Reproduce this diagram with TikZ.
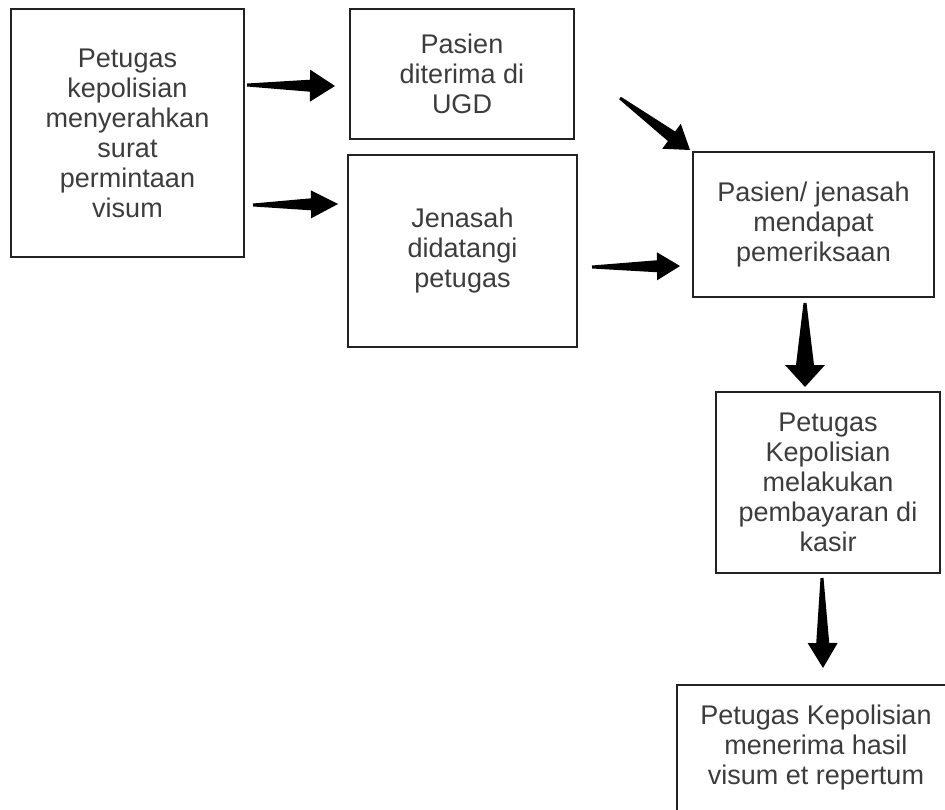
\documentclass[tikz,border=0pt]{standalone}
\usepackage{fontspec}
\setmainfont{Liberation Sans}
\usetikzlibrary{calc}
\definecolor{boxline}{HTML}{222222}
\definecolor{boxtext}{HTML}{3C3C3C}

% block arrow: tail #1, tip #2, head length #3, head half width #4, shaft half width #5
\newcommand{\fatarrow}[5]{%
  \coordinate (hb) at ($(#2)!#3pt!(#1)$);
  \fill[black] ($(#1)!1.5pt!90:(#2)$) -- ($(hb)!#5pt!-90:(#1)$) -- ($(hb)!#4pt!-90:(#1)$) -- (#2)
    -- ($(hb)!#4pt!90:(#1)$) -- ($(hb)!#5pt!90:(#1)$) -- ($(#1)!1.5pt!-90:(#2)$) -- cycle;}

\begin{document}
\begin{tikzpicture}[x=1pt,y=-1pt]
  \tikzset{ proc/.style={draw=boxline,line width=1.6pt,text=boxtext,align=center,inner sep=0pt,
      font=\fontsize{27}{30}\selectfont},
  }
  \useasboundingbox (0,0) rectangle (945,810);
  \node[proc,minimum width=233pt,minimum height=248pt] (lapor) at (127.5,133)
    {Petugas\\kepolisian\\menyerahkan\\surat\\permintaan\\visum};
  \node[proc,minimum width=224pt,minimum height=130pt] (ugd) at (462,74)
    {Pasien\\diterima di\\UGD};
  \node[proc,minimum width=229pt,minimum height=192pt] (jenasah) at (462.5,251)
    {Jenasah\\didatangi\\petugas};
  \node[proc,minimum width=241pt,minimum height=145pt] (periksa) at (813.5,224.5)
    {Pasien/ jenasah\\mendapat\\pemeriksaan};
  \node[proc,minimum width=224pt,minimum height=181pt] (bayar) at (828,482.5)
    {Petugas\\Kepolisian\\melakukan\\pembayaran di\\kasir};
  \node[proc,minimum width=278pt,minimum height=126pt] (hasil) at (816,748)
    {Petugas Kepolisian\\menerima hasil\\visum et repertum};

  % the ends of the arrows between the boxes
  \coordinate (t1) at (247,85);  \coordinate (h1) at (335,86);
  \coordinate (t2) at (253,205); \coordinate (h2) at (338,204);
  \coordinate (t3) at (620,98);  \coordinate (h3) at (690,150);
  \coordinate (t4) at (592,267); \coordinate (h4) at (680,266);
  \coordinate (t5) at (805,303); \coordinate (h5) at (805,387);
  \coordinate (t6) at (822,578); \coordinate (h6) at (823,668);

  \fatarrow{t1}{h1}{25}{16}{6}
  \fatarrow{t2}{h2}{27}{14}{6}
  \fatarrow{t3}{h3}{23}{15.5}{6}
  \fatarrow{t4}{h4}{23}{14}{6}
  \fatarrow{t5}{h5}{22}{20}{9}
  \fatarrow{t6}{h6}{25}{15}{6.5}
\end{tikzpicture}
\end{document}
